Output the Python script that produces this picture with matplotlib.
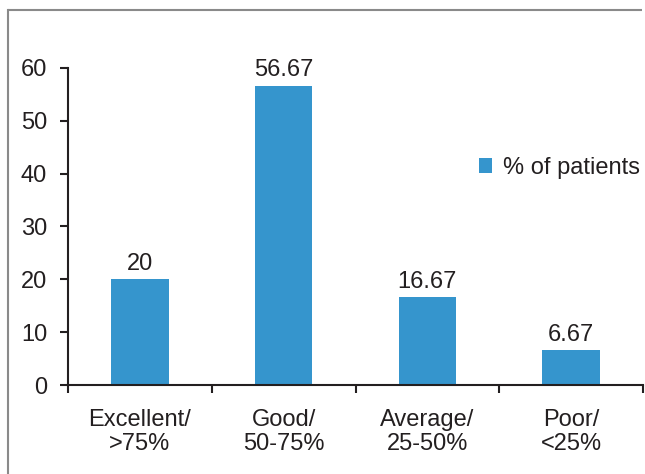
import matplotlib
matplotlib.use("Agg")
import matplotlib.pyplot as plt
from matplotlib.lines import Line2D

categories = ["Excellent/\n>75%", "Good/\n50-75%", "Average/\n25-50%", "Poor/\n<25%"]
percent_patients = [20, 56.67, 16.67, 6.67]
value_labels = ["20", "56.67", "16.67", "6.67"]
series_name = "% of patients"

plt.rcParams['font.family'] = ['Liberation Sans', 'DejaVu Sans']
txt = '#231f20'
bar_color = '#3595cd'

fig = plt.figure(figsize=(6.45, 4.74), dpi=100)
ax = fig.add_axes([68/645, 89/474, 575/645, 317/474])

# grey frame around the chart, only left and top edges show
fx, fy = 8/645, (474-10)/474
fig.lines.append(Line2D([fx, fx], [0, fy], transform=fig.transFigure,
                        color='#8a8a8a', linewidth=1.5))
fig.lines.append(Line2D([fx, 0.995], [fy, fy], transform=fig.transFigure,
                        color='#8a8a8a', linewidth=1.5, solid_capstyle='butt'))

x = list(range(len(categories)))
bars = ax.bar(x, percent_patients, width=0.4, color=bar_color, label=series_name)

for xi, v, lab in zip(x, percent_patients, value_labels):
    ax.annotate(lab, (xi, v), xytext=(0, 3), textcoords='offset points',
                ha='center', va='bottom', fontsize=17, color=txt)

ax.set_xlim(-0.5, len(categories) - 0.5)
ax.set_ylim(0, 60)
ax.set_yticks(range(0, 61, 10))
ax.set_xticks([i - 0.5 for i in range(len(categories) + 1)])
ax.set_xticklabels([])
ax.set_xticks(x, minor=True)
ax.set_xticklabels(categories, minor=True)
ax.tick_params(axis='x', which='minor', length=0, pad=17, labelsize=17, labelcolor=txt)
ax.tick_params(axis='x', which='major', length=6, width=1.5, color=txt, direction='out')
ax.tick_params(axis='y', length=6, width=1.5, color=txt, labelsize=17, labelcolor=txt, pad=9)
for lbl in ax.get_xticklabels(minor=True):
    lbl.set_linespacing(1.12)

for s in ['top', 'right']:
    ax.spines[s].set_visible(False)
for s in ['left', 'bottom']:
    ax.spines[s].set_linewidth(1.5)
    ax.spines[s].set_color(txt)

leg = ax.legend(loc='center left', bbox_to_anchor=(0.678, 0.685), frameon=False,
                fontsize=17, handlelength=0.55, handleheight=0.55, handletextpad=0.47,
                labelcolor=txt)

fig.savefig("out.png", dpi=100, facecolor='white')
